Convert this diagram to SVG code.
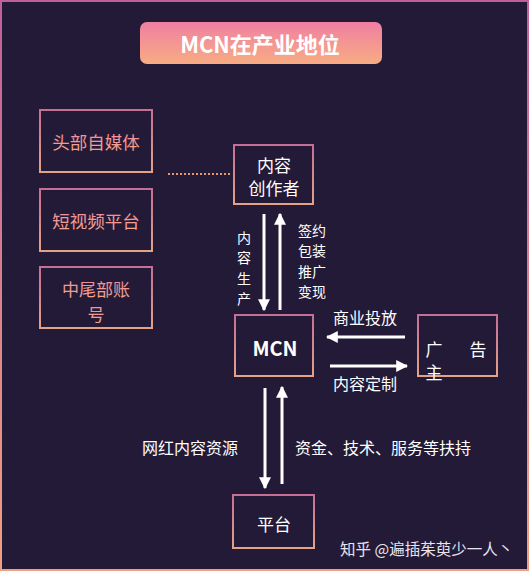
<svg xmlns="http://www.w3.org/2000/svg" width="529" height="571" viewBox="0 0 529 571">
<defs>
<linearGradient id="gTitle" x1="0" y1="0" x2="0" y2="1"><stop offset="0" stop-color="#EF7FA2"/><stop offset="1" stop-color="#F8AC82"/></linearGradient>
<linearGradient id="gBorder" x1="0" y1="0" x2="0" y2="1"><stop offset="0" stop-color="#C56F96"/><stop offset="1" stop-color="#E5A286"/></linearGradient>
<linearGradient id="gFrame" x1="0" y1="0" x2="0" y2="1"><stop offset="0" stop-color="#C0609A"/><stop offset="1" stop-color="#F0A080"/></linearGradient>
<linearGradient id="gText" x1="0" y1="0" x2="0" y2="1"><stop offset="0" stop-color="#F08AA0"/><stop offset="1" stop-color="#F4A888"/></linearGradient>
<marker id="ah" viewBox="0 0 10 10" refX="9" refY="5" markerWidth="4" markerHeight="4" orient="auto" markerUnits="strokeWidth"><path d="M0,0 L10,5 L0,10 z" fill="#FFFFFF"/></marker>
<style>
text{font-family:"Noto Sans CJK SC","Noto Sans",sans-serif;}
.box{fill:none;stroke:url(#gBorder);stroke-width:2;}
.lt{fill:url(#gText);font-size:17.5px;text-anchor:middle;dominant-baseline:central;}
.wt{fill:#FFFFFF;font-size:17px;text-anchor:middle;dominant-baseline:central;}
.lbl{fill:#FFFFFF;font-size:16px;dominant-baseline:central;}
.vl{fill:#FFFFFF;font-size:14px;text-anchor:middle;dominant-baseline:central;}
.arr{stroke:#FFFFFF;stroke-width:3;fill:none;marker-end:url(#ah);}
</style>
</defs>
<rect x="0" y="0" width="529" height="571" fill="#231A37"/>
<rect x="1" y="1" width="527" height="569" fill="none" stroke="url(#gFrame)" stroke-width="2"/>
<g id="title">
<rect x="140" y="22" width="242" height="42" rx="7" fill="url(#gTitle)"/>
<text x="260" y="43" fill="#FFFFFF" font-size="22" font-weight="bold" text-anchor="middle" dominant-baseline="central">MCN在产业地位</text>
</g>
<g id="toumedia"><rect class="box" x="40" y="110" width="112" height="62"/><text class="lt" x="96" y="141">头部自媒体</text></g>
<g id="shortvideo"><rect class="box" x="40" y="189" width="112" height="62"/><text class="lt" x="96" y="220">短视频平台</text></g>
<g id="tail"><rect class="box" x="40" y="267" width="112" height="61"/><text class="lt" x="96" y="288" style="font-size:17px">中尾部账</text><text class="lt" x="96" y="313" style="font-size:17px">号</text></g>
<g id="creator"><rect class="box" x="234" y="145" width="79" height="59"/><text class="wt" x="274" y="164">内容</text><text class="wt" x="274" y="187">创作者</text></g>
<g id="mcn"><rect class="box" x="235" y="315" width="78" height="61"/><text x="275" y="347" fill="#FFFFFF" font-size="20" font-weight="bold" text-anchor="middle" dominant-baseline="central">MCN</text></g>
<g id="advertiser"><rect class="box" x="418" y="315" width="79" height="61"/><text class="wt" x="434" y="348" font-size="18">广</text><text class="wt" x="478" y="348" font-size="18">告</text><text class="wt" x="434" y="371" font-size="18">主</text></g>
<g id="platform"><rect class="box" x="233" y="495" width="81" height="53"/><text class="wt" x="274" y="523">平台</text></g>
<g id="connectors">
<line x1="168" y1="174" x2="230" y2="174" stroke="#E8966E" stroke-width="2" stroke-dasharray="2,2"/>
<line class="arr" x1="264" y1="214" x2="264" y2="310"/>
<line class="arr" x1="280" y1="310" x2="280" y2="214"/>
<line class="arr" x1="405" y1="337" x2="327" y2="337"/>
<line class="arr" x1="330" y1="366" x2="407" y2="366"/>
<line class="arr" x1="265" y1="388" x2="265" y2="488"/>
<line class="arr" x1="282" y1="484" x2="282" y2="387"/>
<text class="vl"><tspan x="244" y="236.5">内</tspan><tspan x="244" y="257">容</tspan><tspan x="244" y="277.5">生</tspan><tspan x="244" y="298">产</tspan></text>
<text class="vl"><tspan x="312" y="229.5">签约</tspan><tspan x="312" y="250">包装</tspan><tspan x="312" y="270.5">推广</tspan><tspan x="312" y="291">变现</tspan></text>
<text class="lbl" x="365" y="317" text-anchor="middle">商业投放</text>
<text class="lbl" x="365" y="383" text-anchor="middle">内容定制</text>
<text class="lbl" x="190" y="447" text-anchor="middle">网红内容资源</text>
<text class="lbl" x="295" y="447">资金、技术、服务等扶持</text>
</g>
<text x="340" y="548" fill="#E8E4EE" font-size="15.5" dominant-baseline="central">知乎 @遍插茱萸少一人丶</text>
</svg>
